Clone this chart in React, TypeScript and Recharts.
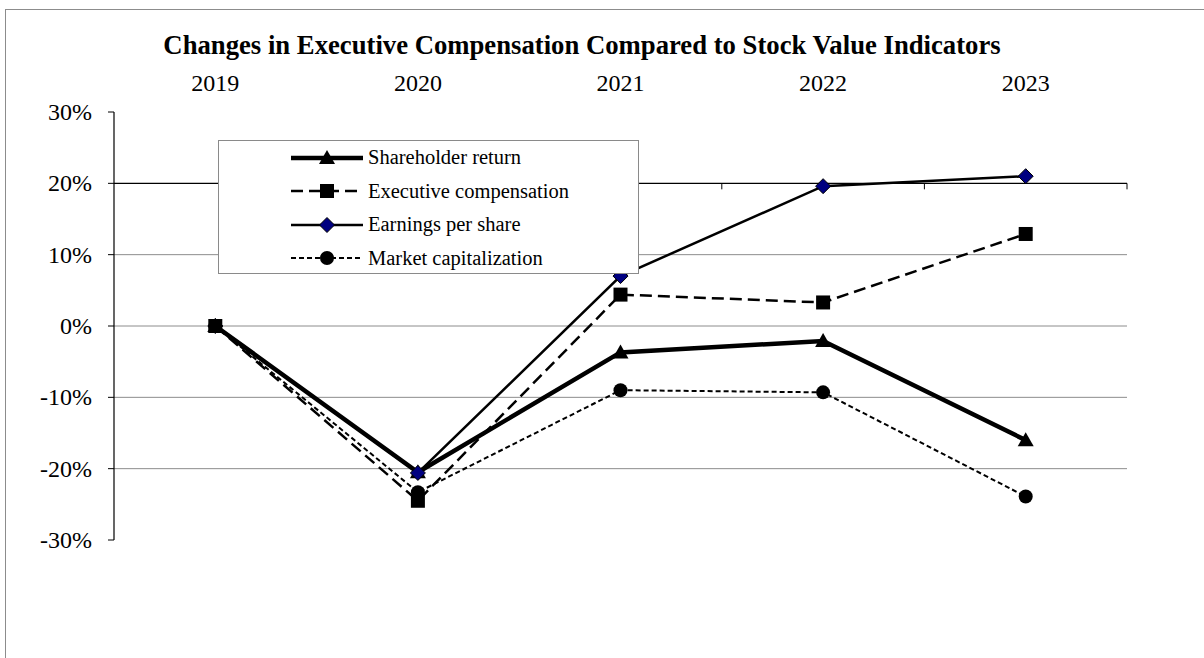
import React from 'react';
import { LineChart, Line, XAxis, YAxis, ReferenceLine, Legend } from 'recharts';

// values are % change vs 2019
const years = ['2019', '2020', '2021', '2022', '2023'];
const shareholderReturn = [0, -20.5, -3.7, -2.1, -16.0];
const executiveCompensation = [0, -24.5, 4.4, 3.3, 12.9];
const earningsPerShare = [0, -20.6, 7.0, 19.6, 21.0];
const marketCapitalization = [0, -23.3, -9.0, -9.3, -23.9];

const yTicks = [-30, -20, -10, 0, 10, 20, 30];
const gridValues = [-20, -10, 0, 10];
const crossValue = 20; // category axis crosses here

const seriesNames = {
  sr: 'Shareholder return',
  ec: 'Executive compensation',
  eps: 'Earnings per share',
  mc: 'Market capitalization',
};

const data = years.map((year, i) => ({
  year,
  sr: shareholderReturn[i],
  ec: executiveCompensation[i],
  eps: earningsPerShare[i],
  mc: marketCapitalization[i],
}));

const FONT = '"Liberation Serif", "Times New Roman", serif';
const svgText: React.CSSProperties = { fontFamily: FONT, fontSize: 24, fill: '#000' };

type Marker = 'triangle' | 'square' | 'diamond' | 'circle';

const lineStyles: Record<string, { width: number; dash?: string; marker: Marker }> = {
  sr: { width: 4.5, marker: 'triangle' },
  ec: { width: 2.5, dash: '12 6', marker: 'square' },
  eps: { width: 2.5, marker: 'diamond' },
  mc: { width: 2, dash: '5 3', marker: 'circle' },
};

const drawMarker = (kind: Marker, cx: number, cy: number, key?: React.Key) => {
  if (kind === 'triangle')
    return <polygon key={key} points={`${cx},${cy - 8} ${cx + 8},${cy + 6} ${cx - 8},${cy + 6}`} fill="#000" />;
  if (kind === 'square')
    return <rect key={key} x={cx - 7} y={cy - 7} width={14} height={14} fill="#000" />;
  if (kind === 'diamond')
    return (
      <polygon
        key={key}
        points={`${cx},${cy - 7.5} ${cx + 7.5},${cy} ${cx},${cy + 7.5} ${cx - 7.5},${cy}`}
        fill="#000080"
        stroke="#000"
        strokeWidth={1}
      />
    );
  return <circle key={key} cx={cx} cy={cy} r={7} fill="#000" />;
};

// black axis line at 20% with tick marks hanging down between categories
const CrossAxis = (props: any) => {
  const { x1, x2, y1 } = props;
  const n = years.length;
  return (
    <g>
      <line x1={x1} x2={x2} y1={y1} y2={y1} stroke="#000" strokeWidth={1.3} />
      {years.map((_, k) => {
        const x = x1 + ((x2 - x1) * (k + 1)) / n;
        return <line key={k} x1={x} x2={x} y1={y1} y2={y1 + 6} stroke="#000" strokeWidth={1} />;
      })}
    </g>
  );
};

const YearTick = (props: any) => (
  <text x={props.x} y={props.y} textAnchor="middle" style={svgText}>
    {props.payload.value}
  </text>
);

const PctTick = (props: any) => (
  <text x={props.x} y={props.y} dy="0.33em" textAnchor="end" style={svgText}>
    {`${props.payload.value}%`}
  </text>
);

const LegendBox = () => (
  <div
    style={{
      width: 419,
      height: 132,
      border: '1px solid #8a8a8a',
      background: '#fff',
      fontFamily: FONT,
      fontSize: 20.5,
      color: '#000',
      boxSizing: 'content-box',
    }}
  >
    {Object.keys(seriesNames).map((k) => {
      const s = lineStyles[k];
      return (
        <div key={k} style={{ display: 'flex', alignItems: 'center', height: 33.5 }}>
          <svg width={72} height={20} style={{ marginLeft: 72, marginRight: 5 }}>
            <line x1={0} x2={72} y1={10} y2={10} stroke="#000" strokeWidth={s.width} strokeDasharray={s.dash} />
            {drawMarker(s.marker, 36, 10)}
          </svg>
          <span>{seriesNames[k as keyof typeof seriesNames]}</span>
        </div>
      );
    })}
  </div>
);

export default function App() {
  return (
    <div
      style={{
        position: 'absolute',
        left: 0,
        top: 0,
        width: 1204,
        height: 658,
        overflow: 'hidden',
        background: '#fff',
        fontFamily: FONT,
      }}
    >
      <div
        style={{
          position: 'absolute',
          left: 5,
          top: 9,
          width: 1300,
          height: 800,
          border: '1px solid #8c8c8c',
        }}
      />
      <div
        style={{
          position: 'absolute',
          left: 0,
          top: 32,
          width: 1164,
          textAlign: 'center',
          fontWeight: 'bold',
          fontSize: 26.7,
          lineHeight: '27px',
          color: '#000',
        }}
      >
        Changes in Executive Compensation Compared to Stock Value Indicators
      </div>
      <div style={{ position: 'absolute', left: 0, top: 0 }}>
        <LineChart
          width={1204}
          height={658}
          data={data}
          margin={{ top: 52, right: 77, bottom: 118, left: 0 }}
          style={{ fontFamily: FONT }}
        >
          <XAxis
            dataKey="year"
            orientation="top"
            scale="band"
            height={60}
            axisLine={false}
            tickLine={false}
            tickSize={6}
            tickMargin={15}
            interval={0}
            tick={YearTick}
          />
          <YAxis
            type="number"
            domain={[-30, 30]}
            ticks={yTicks}
            width={114}
            interval={0}
            axisLine={{ stroke: '#000', strokeWidth: 1.2 }}
            tickLine={{ stroke: '#000' }}
            tickSize={6}
            tickMargin={16}
            tick={PctTick}
          />
          {gridValues.map((v) => (
            <ReferenceLine key={v} y={v} stroke="#8c8c8c" strokeWidth={1} />
          ))}
          <ReferenceLine y={crossValue} shape={CrossAxis} />
          {Object.keys(seriesNames).map((k) => {
            const s = lineStyles[k];
            return (
              <Line
                key={k}
                type="linear"
                dataKey={k}
                name={seriesNames[k as keyof typeof seriesNames]}
                stroke="#000"
                strokeWidth={s.width}
                strokeDasharray={s.dash}
                isAnimationActive={false}
                activeDot={false}
                dot={(p: any) => drawMarker(s.marker, p.cx, p.cy, `${k}-${p.index}`)}
              />
            );
          })}
          <Legend
            layout="vertical"
            align="center"
            verticalAlign="middle"
            content={() => <LegendBox />}
            wrapperStyle={{ position: 'absolute', left: 218, top: 140, width: 421, height: 134 }}
          />
        </LineChart>
      </div>
    </div>
  );
}
